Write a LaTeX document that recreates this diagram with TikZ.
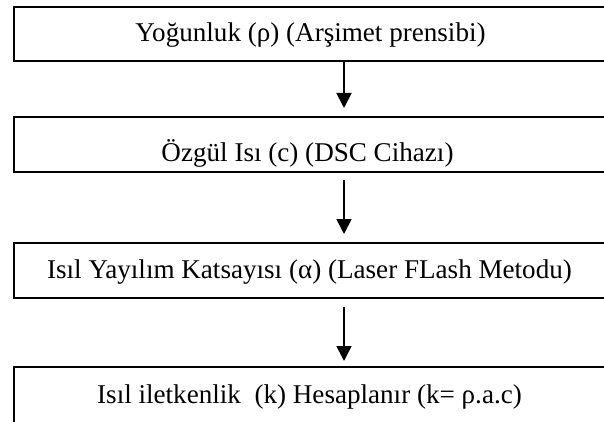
\documentclass[tikz,border=0pt]{standalone}
\usepackage{fontspec}
\setmainfont{Liberation Serif}
\usetikzlibrary{arrows.meta}
\tikzset{
  stepbox/.style={draw=black, line width=1.8pt, rectangle, inner sep=0pt},
  steptext/.style={anchor=base, inner sep=0pt, font=\fontsize{27.1}{31}\selectfont},
  flow/.style={draw=black, line width=1.8pt, -{Triangle[length=15pt,width=15pt]}}
}
\begin{document}
\begin{tikzpicture}[x=1pt,y=-1pt]
\useasboundingbox (0,0) rectangle (604,422);
\clip (0,0) rectangle (604,422);
% boxes (right side runs past the frame)
\node[stepbox, minimum width=592pt, minimum height=54pt] (b1) at (310,34) {};
\node[stepbox, minimum width=592pt, minimum height=55pt] (b2) at (310,144.5) {};
\node[stepbox, minimum width=592pt, minimum height=55pt] (b3) at (310,270.5) {};
\node[stepbox, minimum width=592pt, minimum height=80pt] (b4) at (310,407) {};
% texts
\node[steptext] (t1) at (310.5,42) {Yoğunluk (ρ) (Arşimet prensibi)};
\node[steptext] (t2) at (307.5,161) {Özgül Isı (c) (DSC Cihazı)};
\node[steptext] (t3) at (309.5,278) {Isıl Yayılım Katsayısı (α) (Laser FLash Metodu)};
\node[steptext] (t4) at (309.5,403) {Isıl iletkenlik~ (k) Hesaplanır (k= ρ.a.c)};
% arrow ends
\coordinate (a1s) at (344,61);
\coordinate (a1e) at (344,108);
\coordinate (a2s) at (344,180);
\coordinate (a2e) at (344,234);
\coordinate (a3s) at (344,307);
\coordinate (a3e) at (344,361);
\draw[flow] (a1s) -- (a1e);
\draw[flow] (a2s) -- (a2e);
\draw[flow] (a3s) -- (a3e);
\end{tikzpicture}
\end{document}
